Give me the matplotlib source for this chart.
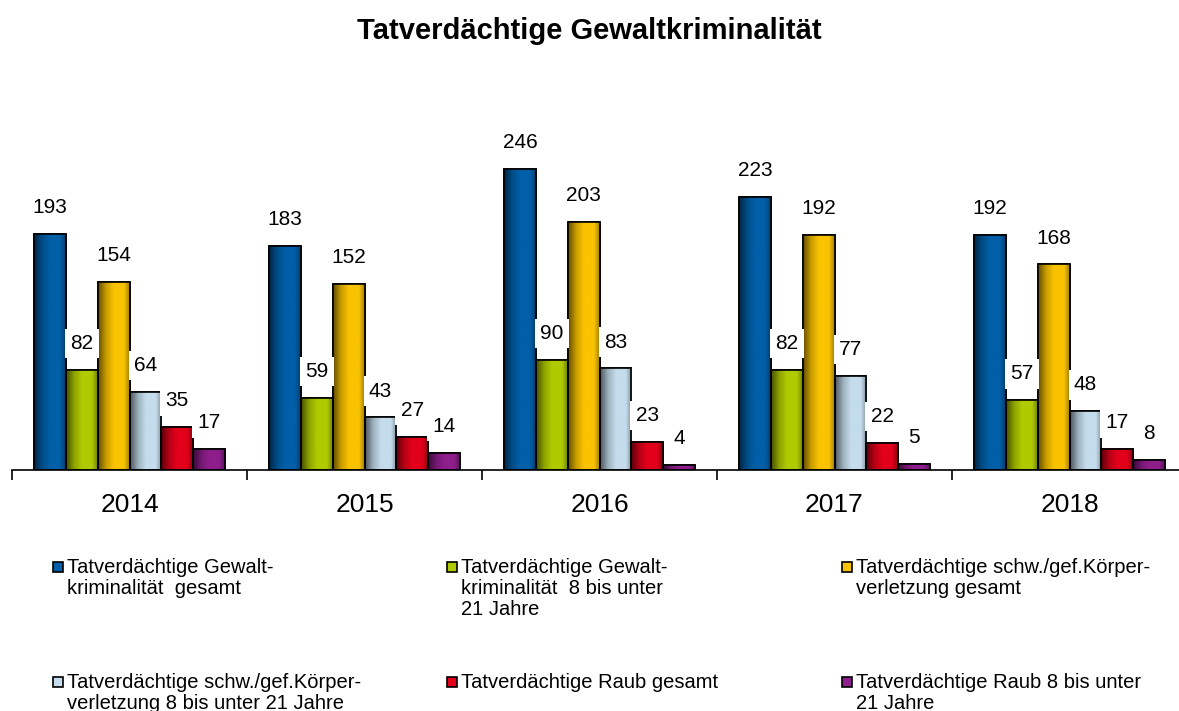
import matplotlib.pyplot as plt
import numpy as np
from matplotlib.colors import LinearSegmentedColormap, to_rgb
from matplotlib.patches import Rectangle

plt.rcParams['font.family'] = ['Liberation Sans', 'DejaVu Sans']

# Data
years = ['2014', '2015', '2016', '2017', '2018']
series_labels = [
    'Tatverdächtige Gewalt-\nkriminalität  gesamt',
    'Tatverdächtige Gewalt-\nkriminalität  8 bis unter\n21 Jahre',
    'Tatverdächtige schw./gef.Körper-\nverletzung gesamt',
    'Tatverdächtige schw./gef.Körper-\nverletzung 8 bis unter 21 Jahre',
    'Tatverdächtige Raub gesamt',
    'Tatverdächtige Raub 8 bis unter\n21 Jahre',
]
gewalt_gesamt = [193, 183, 246, 223, 192]
gewalt_jung = [82, 59, 90, 82, 57]
kv_gesamt = [154, 152, 203, 192, 168]
kv_jung = [64, 43, 83, 77, 48]
raub_gesamt = [35, 27, 23, 22, 17]
raub_jung = [17, 14, 4, 5, 8]
all_series = [gewalt_gesamt, gewalt_jung, kv_gesamt, kv_jung, raub_gesamt, raub_jung]
colors = ['#005FA8', '#B0CA00', '#FAC300', '#C4DCEC', '#E2001A', '#8E1E8C']


def shade_cmap(color):
    # dark left edge, bright middle, slightly darker right edge (Excel-like cylinder look)
    c = np.array(to_rgb(color))
    dark = c * 0.4
    mid = c * 0.8
    return LinearSegmentedColormap.from_list(
        'shade', [(0, dark), (0.25, mid), (0.5, c), (0.82, c), (1, c * 0.65)])


W, H = 1179, 711
fig = plt.figure(figsize=(W / 100, H / 100), dpi=100)
ax = fig.add_axes([12 / W, (H - 470) / H, 1175 / W, 367 / H])

x = np.arange(len(years))
n = len(all_series)
width = 0.135
grad = np.linspace(0, 1, 64).reshape(1, -1)

for i, (vals, col) in enumerate(zip(all_series, colors)):
    pos = x + (i - (n - 1) / 2) * width
    bars = ax.bar(pos, vals, width, color=col, edgecolor='black', linewidth=1.2, zorder=2)
    cmap = shade_cmap(col)
    for b in bars:
        bx, by = b.get_x(), b.get_y()
        im = ax.imshow(grad, cmap=cmap, aspect='auto', zorder=2.5,
                       extent=[bx, bx + b.get_width(), by, by + b.get_height()])
        im.set_clip_path(b)
        edge = Rectangle((bx, by), b.get_width(), b.get_height(), fill=False,
                         edgecolor='black', linewidth=1.2, zorder=3)
        ax.add_patch(edge)
    for p, v in zip(pos, vals):
        ax.annotate(str(v), (p, v), xytext=(0, 19), textcoords='offset points',
                    ha='center', va='center', fontsize=15, zorder=5,
                    bbox=dict(boxstyle='square,pad=0.25', fc='white', ec='none'))

ax.set_xlim(-0.5, len(years) - 0.5)
ax.set_ylim(0, 300)
for s in ['top', 'right', 'left']:
    ax.spines[s].set_visible(False)
ax.spines['bottom'].set_linewidth(1.2)
ax.set_yticks([])
ax.set_xticks(np.arange(len(years) + 1) - 0.5)
ax.set_xticklabels([])
ax.tick_params(axis='x', length=7, width=1.2, direction='out')
for xi, yr in zip(x, years):
    ax.text(xi, -0.095, yr, transform=ax.get_xaxis_transform(), ha='center', va='center',
            fontsize=19)

fig.text(0.5, 1 - 31 / H, 'Tatverdächtige Gewaltkriminalität', ha='center', va='center',
         fontsize=21, fontweight='bold')

# manual legend, filled row-wise in three columns
col_x = [53, 447, 842]
row_y = [561, 676]
for k, (lab, col) in enumerate(zip(series_labels, colors)):
    mx = col_x[k % 3]
    my = row_y[k // 3]
    fig.patches.append(Rectangle((mx / W, 1 - (my + 11) / H), 10 / W, 10 / H,
                                 transform=fig.transFigure, facecolor=col,
                                 edgecolor='black', linewidth=1.2))
    fig.text((mx + 14) / W, 1 - (my - 3) / H, lab, ha='left', va='top',
             fontsize=14.5, linespacing=1.12)

fig.savefig('out.png', dpi=100)
